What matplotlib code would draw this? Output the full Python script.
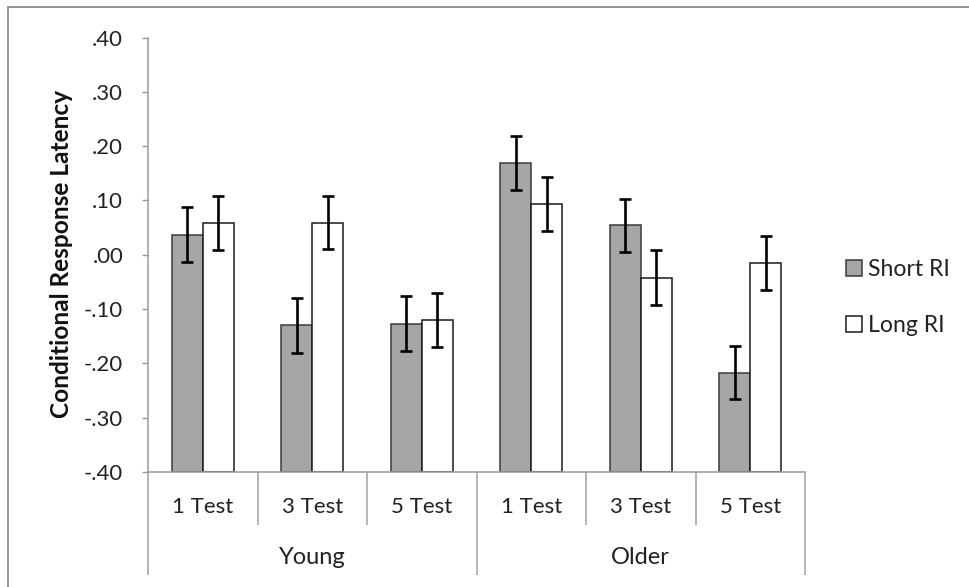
import matplotlib
matplotlib.use("Agg")
import matplotlib.pyplot as plt
from matplotlib.patches import Rectangle
from matplotlib.transforms import blended_transform_factory
import numpy as np

groups = ["Young", "Older"]
tests = ["1 Test", "3 Test", "5 Test", "1 Test", "3 Test", "5 Test"]
series_names = ["Short RI", "Long RI"]
short_vals = [0.037, -0.130, -0.127, 0.169, 0.054, -0.217]
long_vals = [0.059, 0.059, -0.120, 0.094, -0.042, -0.015]
short_err = [0.050, 0.050, 0.051, 0.049, 0.049, 0.049]
long_err = [0.050, 0.049, 0.050, 0.050, 0.051, 0.049]
yticks = [-0.4, -0.3, -0.2, -0.1, 0.0, 0.1, 0.2, 0.3, 0.4]
ytick_labels = ["-.40", "-.30", "-.20", "-.10", ".00", ".10", ".20", ".30", ".40"]
ylabel = "Conditional Response Latency"

FONT = "Lato"
plt.rcParams['font.family'] = [FONT, 'DejaVu Sans']

W, H = 969, 587
fig = plt.figure(figsize=(W / 100, H / 100), dpi=100)
renderer = fig.canvas.get_renderer()


def fit(s, target_px, weight="normal", base=14.0):
    t = fig.text(0, 0, s, fontsize=base, fontweight=weight)
    w = t.get_window_extent(renderer=renderer).width
    t.remove()
    return base * target_px / w


fs_tick = fit(".40", 31)
fs_cat = fit("1 Test", 61)
fs_grp = fit("Young", 67)
fs_ylab = fit(ylabel, 330, weight="bold")
fs_leg = fit("Short RI", 82)

ax_left, ax_right, ax_top, ax_bot = 148, 805, 37.5, 472
ax = fig.add_axes([ax_left / W, 1 - ax_bot / H, (ax_right - ax_left) / W, (ax_bot - ax_top) / H])

x = np.arange(len(tests))
bw = 0.283
ekw = dict(ecolor="black", elinewidth=1.9, capsize=4.2, capthick=1.9)
ax.bar(x - bw / 2, np.array(short_vals) + 0.4, bw, bottom=-0.4, color="#A6A6A6",
       edgecolor="#3a3a3a", linewidth=1.1, label=series_names[0], zorder=2)
ax.bar(x + bw / 2, np.array(long_vals) + 0.4, bw, bottom=-0.4, color="white",
       edgecolor="#1a1a1a", linewidth=1.1, label=series_names[1], zorder=2)
ax.errorbar(x - bw / 2, short_vals, yerr=short_err, fmt="none", zorder=3, **ekw)
ax.errorbar(x + bw / 2, long_vals, yerr=long_err, fmt="none", zorder=3, **ekw)

ax.set_ylim(-0.4, 0.4)
ax.set_xlim(-0.5, len(tests) - 0.5)
ax.set_yticks(yticks)
ax.set_yticklabels(ytick_labels, fontsize=fs_tick, color="#222222")
ax.tick_params(axis="y", direction="out", length=4.5, width=1, color="#9a9a9a", pad=13.5)

for s in ["top", "right"]:
    ax.spines[s].set_visible(False)
for s in ["left", "bottom"]:
    ax.spines[s].set_color("#9a9a9a")
    ax.spines[s].set_linewidth(1.1)

# category separators via ticks
inner = [0.5, 1.5, 3.5, 4.5]
outer = [-0.5, 2.5, 5.5]
ax.set_xticks(inner)
ax.set_xticklabels([])
ax.set_xticks(outer, minor=True)
ax.tick_params(axis="x", which="major", direction="out", length=53 * 0.72, width=1.1, color="#a0a0a0")
ax.tick_params(axis="x", which="minor", direction="out", length=103 * 0.72, width=1.1, color="#a0a0a0")

tr = blended_transform_factory(ax.transData, fig.transFigure)
for i, t in enumerate(tests):
    ax.text(x[i], 1 - 507 / H, t, transform=tr, ha="center", va="center", fontsize=fs_cat, color="#222222")
for g, gi in enumerate(groups):
    ax.text(1 + 3 * g, 1 - 558 / H, gi, transform=tr, ha="center", va="center", fontsize=fs_grp, color="#222222")

fig.text(62 / W, 1 - 254 / H, ylabel, rotation=90, ha="center", va="center",
         fontsize=fs_ylab, fontweight="bold", color="#111111")

# legend
leg = fig.legend(loc="upper left", bbox_to_anchor=(830 / W, 1 - 243 / H), frameon=False, fontsize=fs_leg,
                 handlelength=0.7, handleheight=0.7, handletextpad=0.25, labelspacing=1.5, borderpad=0.2)
for t in leg.get_texts():
    t.set_color("#222222")

# outer chart border
fig.patches.append(Rectangle((8 / W, -0.1), 1.2, 1 - 7 / H + 0.1, transform=fig.transFigure,
                             fill=False, edgecolor="#8c8c8c", linewidth=1.3))

fig.savefig("out.png", dpi=100)
